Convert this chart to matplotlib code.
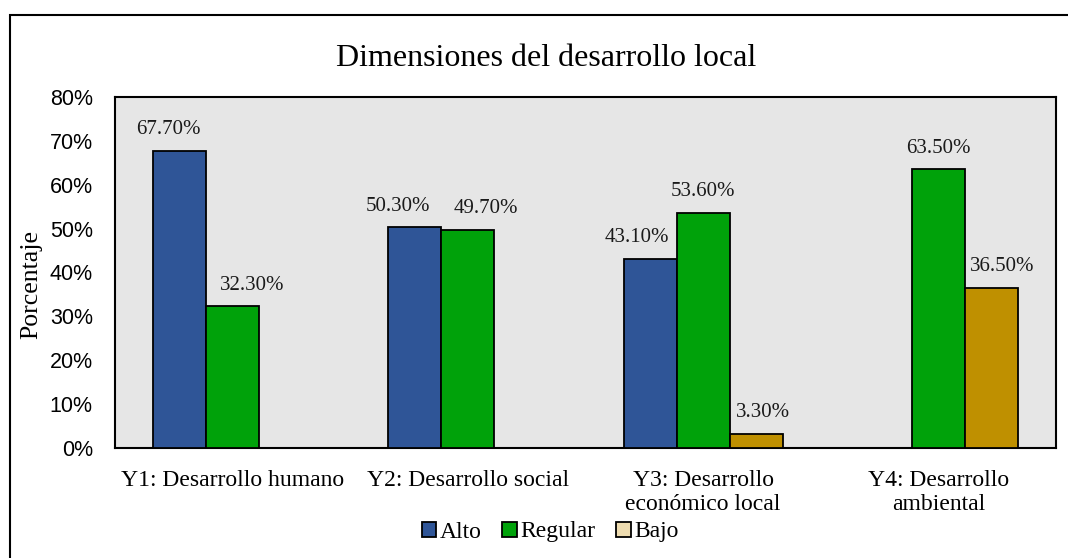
import matplotlib
matplotlib.use("Agg")
import matplotlib.pyplot as plt
from matplotlib.patches import Rectangle, Patch
import numpy as np

categories = ["Y1: Desarrollo humano", "Y2: Desarrollo social",
              "Y3: Desarrollo\neconómico local", "Y4: Desarrollo\nambiental"]
series_names = ["Alto", "Regular", "Bajo"]
alto = [67.7, 50.3, 43.1, None]
regular = [32.3, 49.7, 53.6, 63.5]
bajo = [None, None, 3.3, 36.5]
yticks = [0, 10, 20, 30, 40, 50, 60, 70, 80]

colors = ["#2F5597", "#00A20A", "#BF9000"]
legend_colors = ["#2F5597", "#00A20A", "#EEDCB0"]

fig = plt.figure(figsize=(10.68, 5.58), dpi=100)
fig.patches.append(Rectangle((10/1068, -0.01), 1.02, 1 - 15/558 + 0.01,
                             transform=fig.transFigure, fill=False,
                             edgecolor="black", linewidth=1.5, zorder=0))
ax = fig.add_axes([115/1068, (558-448)/558, (1056-115)/1068, (448-97)/558])
ax.set_facecolor("#E6E6E6")

x = np.arange(len(categories))
w = 0.225
offsets = [-w, 0, w]
serif = ["Liberation Serif", "DejaVu Serif"]
# horizontal label nudges (points), (series, category) -> dx, like the original layout
nudge = {(0, 0): -8, (1, 0): 14, (0, 1): -12.6, (1, 1): 13.3,
         (0, 2): -9.7, (2, 2): 5, (2, 3): 8}
for si, (vals, c) in enumerate(zip([alto, regular, bajo], colors)):
    for ci, v in enumerate(vals):
        if v is None:
            continue
        ax.bar(x[ci] + offsets[si], v, width=w, color=c, edgecolor="black",
               linewidth=1.3, zorder=3)
        ax.annotate(f"{v:.2f}%", (x[ci] + offsets[si], v),
                    xytext=(nudge.get((si, ci), 0), 12), textcoords="offset points",
                    ha="center", va="baseline", fontsize=15, family=serif,
                    color="#1a1a1a", zorder=6)

ax.set_xlim(-0.5, 3.5)
ax.set_ylim(0, 80)
ax.set_yticks(yticks)
ax.set_yticklabels([f"{t}%" for t in yticks], family=["Liberation Sans", "DejaVu Sans"],
                   fontsize=15.5)
ax.set_xticks(x)
ax.set_xticklabels(categories, family=serif, fontsize=17, linespacing=1.2)
ax.tick_params(axis="both", length=0)
ax.tick_params(axis="x", pad=16)
ax.tick_params(axis="y", pad=16)
for s in ax.spines.values():
    s.set_linewidth(1.5)
    s.set_color("black")
ax.set_ylabel("Porcentaje", family=serif, fontsize=18.5)
ax.yaxis.set_label_coords(-0.0776, 0.467)

fig.text(546/1068, 1 - 58/558, "Dimensiones del desarrollo local",
         ha="center", va="center", family=serif, fontsize=23)

handles = [Patch(facecolor=c, edgecolor="black", linewidth=1.3, label=n)
           for c, n in zip(legend_colors, series_names)]
leg = fig.legend(handles=handles, loc="center", bbox_to_anchor=(550/1068, 1 - 532/558),
                 ncol=3, frameon=False, prop={"family": serif, "size": 17},
                 handlelength=0.6, handleheight=0.6, handletextpad=0.15,
                 columnspacing=0.9, borderpad=0)

fig.savefig("out.png", dpi=100)
